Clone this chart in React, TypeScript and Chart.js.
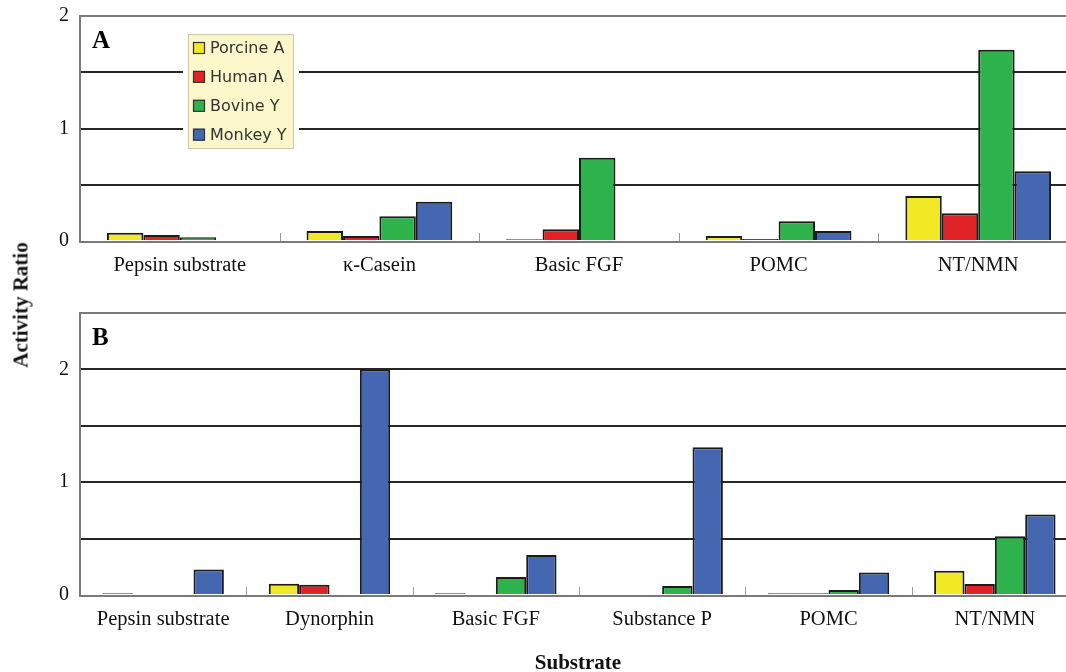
import React, { useEffect, useRef } from "react";
import { Chart, registerables } from "chart.js";
Chart.register(...registerables);

const seriesLabels = ["Porcine A", "Human A", "Bovine Y", "Monkey Y"];
const seriesColors = ["#f2e824", "#e02326", "#2eb24b", "#4567b1"];

const categoriesA = ["Pepsin substrate", "\u03ba-Casein", "Basic FGF", "POMC", "NT/NMN"];
const porcineA = [0.074, 0.09, 0.015, 0.044, 0.4];
const humanA = [0.053, 0.044, 0.104, 0.018, 0.246];
const bovineA = [0.033, 0.22, 0.74, 0.175, 1.7];
const monkeyA = [0, 0.35, 0, 0.09, 0.62];

const categoriesB = ["Pepsin substrate", "Dynorphin", "Basic FGF", "Substance P", "POMC", "NT/NMN"];
const porcineB = [0.015, 0.1, 0.015, 0, 0.015, 0.215];
const humanB = [0, 0.09, 0, 0, 0.015, 0.097];
const bovineB = [0, 0, 0.16, 0.08, 0.045, 0.52];
const monkeyB = [0.227, 2.0, 0.354, 1.31, 0.2, 0.714];

const yTickLabels = ["0", "1", "2"];

const SERIF = "'Liberation Serif', 'Times New Roman', serif";
const SANS = "'DejaVu Sans', 'Liberation Sans', sans-serif";
const CANVAS_W = 1090;
const OUTLINE = "#1b1b1b";

function decorPlugin(letter: string, showLegend: boolean, offsetY: number) {
  return {
    id: "decor" + letter,
    beforeDatasetsDraw(chart: any) {
      const { ctx, chartArea } = chart;
      const x = chart.scales.x;
      ctx.save();
      ctx.strokeStyle = "#9a9a9a";
      ctx.lineWidth = 1;
      const n = chart.data.labels.length;
      for (let i = 1; i < n; i++) {
        const px = Math.round((x.getPixelForValue(i - 1) + x.getPixelForValue(i)) / 2) + 0.5;
        ctx.beginPath();
        ctx.moveTo(px, chartArea.bottom);
        ctx.lineTo(px, chartArea.bottom - 8);
        ctx.stroke();
      }
      ctx.strokeStyle = "#7a7a7a";
      ctx.lineWidth = 2;
      ctx.strokeRect(chartArea.left, chartArea.top, chartArea.right - chartArea.left, chartArea.bottom - chartArea.top + 1);
      ctx.restore();
    },
    afterDraw(chart: any) {
      const { ctx, chartArea } = chart;
      ctx.save();
      ctx.fillStyle = "#000";
      ctx.font = "bold 25px " + SERIF;
      ctx.textBaseline = "alphabetic";
      ctx.textAlign = "left";
      ctx.fillText(letter, chartArea.left + 12, chartArea.top + 32);
      if (showLegend) {
        const bx = 188, by = 34 + offsetY, bw = 106, bh = 115;
        ctx.fillStyle = "#ffffff";
        ctx.fillRect(bx - 5, by - 5, bw + 10, bh + 10);
        ctx.fillStyle = "#fbf7cb";
        ctx.fillRect(bx, by, bw, bh);
        ctx.strokeStyle = "#cfcaa6";
        ctx.lineWidth = 1;
        ctx.strokeRect(bx + 0.5, by + 0.5, bw - 1, bh - 1);
        ctx.font = "16px " + SANS;
        ctx.textBaseline = "middle";
        chart.data.datasets.forEach((ds: any, i: number) => {
          const cy = 48 + offsetY + i * 28.9;
          ctx.fillStyle = seriesColors[i];
          ctx.fillRect(193, cy - 6, 12, 12);
          ctx.strokeStyle = "#333";
          ctx.lineWidth = 1.2;
          ctx.strokeRect(193.5, cy - 5.5, 11, 11);
          ctx.fillStyle = "#333";
          ctx.fillText(ds.label, 210, cy + 1);
        });
      }
      ctx.restore();
    },
  };
}

function buildChart(
  canvas: HTMLCanvasElement,
  cats: string[],
  series: number[][],
  max: number,
  letter: string,
  showLegend: boolean,
  canvasTop: number,
  areaTop: number,
  areaBottom: number,
  canvasH: number
) {
  return new Chart(canvas, {
    type: "bar",
    data: {
      labels: cats,
      datasets: series.map((d, i) => ({
        label: seriesLabels[i],
        data: d,
        backgroundColor: (c: any) => {
          const v = c.raw;
          return typeof v === "number" && v > 0 && v < 0.02 ? OUTLINE : seriesColors[i];
        },
        borderColor: OUTLINE,
        borderWidth: 2,
        borderSkipped: "bottom",
        categoryPercentage: 0.73,
        barPercentage: 1.0,
      })),
    },
    options: {
      responsive: false,
      animation: false,
      devicePixelRatio: 1,
      layout: { padding: { top: areaTop - canvasTop, right: 12, left: 0, bottom: 0 } },
      plugins: { legend: { display: false }, tooltip: { enabled: false } },
      scales: {
        x: {
          grid: { display: false },
          border: { display: false },
          ticks: { font: { family: SERIF, size: 20.5 }, color: "#111", padding: 4, maxRotation: 0, autoSkip: false },
          afterFit(s: any) {
            s.height = canvasH - (areaBottom - canvasTop);
          },
        },
        y: {
          min: 0,
          max: max,
          border: { display: false },
          grid: {
            drawTicks: false,
            lineWidth: 2,
            color: (c: any) =>
              c.tick && (c.tick.value === 0 || c.tick.value === max) ? "rgba(0,0,0,0)" : "#262626",
          },
          ticks: {
            stepSize: 0.5,
            padding: 11,
            color: "#111",
            font: { family: SERIF, size: 20 },
            callback: (v: any) => {
              const s = String(v);
              return yTickLabels.includes(s) ? s : "";
            },
          },
          afterFit(s: any) {
            s.width = 80;
          },
        },
      },
    },
    plugins: [decorPlugin(letter, showLegend, -canvasTop)],
  } as any);
}

const A_TOP = -20, A_H = 310;
const B_TOP = 270, B_H = 402;

export default function App() {
  const refA = useRef<HTMLCanvasElement>(null);
  const refB = useRef<HTMLCanvasElement>(null);
  useEffect(() => {
    const a = buildChart(refA.current!, categoriesA, [porcineA, humanA, bovineA, monkeyA], 2, "A", true, A_TOP, 16, 241, A_H);
    const b = buildChart(refB.current!, categoriesB, [porcineB, humanB, bovineB, monkeyB], 2.5, "B", false, B_TOP, 313, 595, B_H);
    return () => {
      a.destroy();
      b.destroy();
    };
  }, []);
  return (
    <div
      style={{
        position: "fixed",
        left: 0,
        top: 0,
        width: 1066,
        height: 672,
        overflow: "hidden",
        background: "#fff",
      }}
    >
      <canvas ref={refA} width={CANVAS_W} height={A_H} style={{ position: "absolute", left: 0, top: A_TOP }} />
      <canvas ref={refB} width={CANVAS_W} height={B_H} style={{ position: "absolute", left: 0, top: B_TOP }} />
      <div
        style={{
          position: "absolute",
          left: 21,
          top: 305,
          transform: "translate(-50%, -50%) rotate(-90deg)",
          fontFamily: SERIF,
          fontWeight: "bold",
          fontSize: 21,
          whiteSpace: "nowrap",
          color: "#111",
        }}
      >
        Activity Ratio
      </div>
      <div
        style={{
          position: "absolute",
          left: 578,
          top: 662,
          transform: "translate(-50%, -50%)",
          fontFamily: SERIF,
          fontWeight: "bold",
          fontSize: 21,
          whiteSpace: "nowrap",
          color: "#111",
        }}
      >
        Substrate
      </div>
    </div>
  );
}
